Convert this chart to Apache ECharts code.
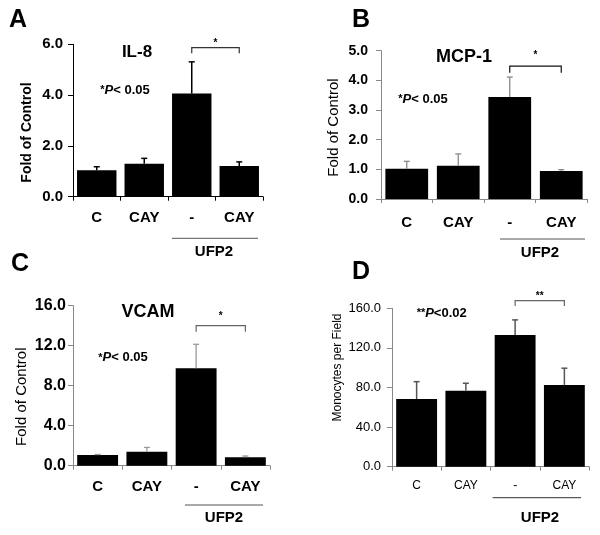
<!DOCTYPE html>
<html><head><meta charset="utf-8">
<script src="https://cdn.jsdelivr.net/npm/echarts@6/dist/echarts.min.js"></script>
<style>html,body{margin:0;padding:0;background:#fff}#c{width:600px;height:535px}</style>
</head><body><div id="c"></div>
<script>
// ---- data ----
const categories = ['C', 'CAY', '-', 'CAY'];
const groupLabel = 'UFP2';
const il8Mean = [1.04, 1.30, 4.06, 1.21];
const il8Err  = [0.14, 0.21, 1.25, 0.16];
const mcpMean = [1.02, 1.12, 3.44, 0.94];
const mcpErr  = [0.25, 0.40, 0.67, 0.05];
const vcamMean = [1.07, 1.40, 9.74, 0.84];
const vcamErr  = [0.05, 0.43, 2.40, 0.13];
const monoMean = [68.4, 76.8, 133.1, 82.6];
const monoErr  = [17.5, 7.5, 15.2, 16.9];
const yMaxes = [6, 5, 16, 160];
const yIntervals = [2, 1, 4, 40];
// bracket: [fromCategory, toCategory, topValue, dropValue]
const brackets = [[2, 3, 5.87, 5.65], [2, 3, 4.48, 4.26], [2, 3, 14.0, 13.4], [2, 3, 167.7, 162.3]];
const bracketMarks = ['*', '*', '*', '**'];
const titles = ['IL-8', 'MCP-1', 'VCAM', ''];
const yNames = ['Fold of Control', 'Fold of Control', 'Fold of Control', 'Monocytes per Field'];
const panelLetters = ['A', 'B', 'C', 'D'];

const FONT = '"Liberation Sans", Arial, sans-serif';
const means = [il8Mean, mcpMean, vcamMean, monoMean];
const errs = [il8Err, mcpErr, vcamErr, monoErr];

const panels = [
  {grid:{left:73, top:44.3, width:190, height:152.4}, axisColor:'#000', tickFont:15, tickBold:true, tickMargin:10,
   catFont:15, catBold:true, catMargin:14, errColor:'#000', errW:1.5, brColor:'#333', starGap:4.5},
  {grid:{left:381, top:50.7, width:206, height:148.3}, axisColor:'#888', tickFont:14, tickBold:true, tickMargin:13,
   catFont:15, catBold:true, catMargin:16, errColor:'#8a8a8a', errW:1.3, brColor:'#111', starGap:11},
  {grid:{left:73, top:305.7, width:197, height:160}, axisColor:'#888', tickFont:16, tickBold:true, tickMargin:7,
   catFont:15, catBold:true, catMargin:14, errColor:'#999', errW:1.3, brColor:'#666', starGap:9},
  {grid:{left:392, top:308.3, width:197, height:158.4}, axisColor:'#888', tickFont:13, tickBold:false, tickMargin:11,
   catFont:12, catBold:false, catMargin:13, errColor:'#555', errW:1.5, brColor:'#666', starGap:4}
];

function errRender(color, lw, cap) {
  return function (params, api) {
    const i = api.value(0), m = api.value(1), e = api.value(2);
    const p0 = api.coord([i, m]);
    const p1 = api.coord([i, m + e]);
    return {type:'group', children:[
      {type:'line', shape:{x1:p0[0], y1:p0[1], x2:p1[0], y2:p1[1]}, style:{stroke:color, lineWidth:lw}},
      {type:'line', shape:{x1:p1[0]-cap, y1:p1[1], x2:p1[0]+cap, y2:p1[1]}, style:{stroke:color, lineWidth:lw}}
    ]};
  };
}
function bracketRender(color, mark, gap) {
  return function (params, api) {
    const a = api.value(0), b = api.value(1), top = api.value(2), drop = api.value(3);
    const pa = api.coord([a, top]), pb = api.coord([b, top]);
    const da = api.coord([a, drop]), db = api.coord([b, drop]);
    return {type:'group', children:[
      {type:'polyline', shape:{points:[[pa[0], da[1]], pa, pb, [pb[0], db[1]]]}, style:{stroke:color, lineWidth:1.2, fill:null}},
      {type:'text', x:(pa[0]+pb[0])/2, y:pa[1]-gap, style:{text:mark, fill:'#000', font:'bold 10px ' + FONT, textAlign:'center', textVerticalAlign:'middle'}}
    ]};
  };
}

const grids = [], xAxes = [], yAxes = [], series = [];
panels.forEach((p, k) => {
  grids.push(Object.assign({containLabel:false}, p.grid));
  xAxes.push({type:'category', gridIndex:k, data:categories,
    axisLine:{lineStyle:{color:p.axisColor, width:1}},
    axisTick:{show:true, length:4, interval:0, lineStyle:{color:p.axisColor}},
    axisLabel:{interval:0, margin:p.catMargin, color:'#000', fontFamily:FONT, fontSize:p.catFont, fontWeight:p.catBold?'bold':'normal'}});
  yAxes.push({type:'value', gridIndex:k, min:0, max:yMaxes[k], interval:yIntervals[k],
    axisLine:{show:true, lineStyle:{color:p.axisColor, width:1}},
    axisTick:{show:true, length:5, lineStyle:{color:p.axisColor}},
    splitLine:{show:false},
    axisLabel:{margin:p.tickMargin, color:'#000', fontFamily:FONT, fontSize:p.tickFont, fontWeight:p.tickBold?'bold':'normal',
      formatter:v => v.toFixed(1)}});
  series.push({type:'bar', xAxisIndex:k, yAxisIndex:k, data:means[k], barCategoryGap:'17%',
    itemStyle:{color:'#000'}, z:2, silent:true});
  series.push({type:'custom', xAxisIndex:k, yAxisIndex:k, z:3, silent:true,
    renderItem:errRender(p.errColor, p.errW, 3),
    encode:{x:0, y:1},
    data:means[k].map((m, i) => [i, m, errs[k][i]])});
  series.push({type:'custom', xAxisIndex:k, yAxisIndex:k, z:3, silent:true, clip:false,
    renderItem:bracketRender(p.brColor, bracketMarks[k], p.starGap),
    encode:{x:[0,1], y:[2,3]},
    data:[brackets[k]]});
});

function txt(x, y, text, font, extra) {
  return Object.assign({type:'text', x:x, y:y, silent:true,
    style:{text:text, font:font, fill:'#000', textAlign:'center', textVerticalAlign:'middle'}}, extra || {});
}
function line(x1, y1, x2, y2, color) {
  return {type:'line', silent:true, shape:{x1:x1, y1:y1, x2:x2, y2:y2}, style:{stroke:color, lineWidth:1}};
}
function pText(x, y, size, stars, tail) {
  return {type:'text', x:x, y:y, silent:true, style:{
    text:'{s|' + stars + '}{i|P}{n|' + tail + '}', textAlign:'center', textVerticalAlign:'middle',
    rich:{
      s:{font:'bold ' + (size-2) + 'px ' + FONT, fill:'#000'},
      i:{font:'italic bold ' + size + 'px ' + FONT, fill:'#000'},
      n:{font:'bold ' + size + 'px ' + FONT, fill:'#000'}
    }}};
}
const yNameSpecs = [
  {x:27.5, y:132.5, font:'bold 14px ' + FONT},
  {x:334, y:127.5, font:'15px ' + FONT},
  {x:21.5, y:396.7, font:'15px ' + FONT},
  {x:337.5, y:367.5, font:'12px ' + FONT}
];
const graphics = [
  txt(18, 20.5, panelLetters[0], 'bold 25px ' + FONT),
  txt(361, 20.5, panelLetters[1], 'bold 25px ' + FONT),
  txt(20, 264.5, panelLetters[2], 'bold 25px ' + FONT),
  txt(361, 272, panelLetters[3], 'bold 25px ' + FONT),
  txt(137, 52, titles[0], 'bold 17px ' + FONT),
  txt(464, 57, titles[1], 'bold 18px ' + FONT),
  txt(148, 312, titles[2], 'bold 18px ' + FONT),
  pText(125, 90, 13, '*', '< 0.05'),
  pText(423, 99, 13, '*', '< 0.05'),
  pText(123, 357.7, 13, '*', '< 0.05'),
  pText(441.7, 313.3, 13, '**', '<0.02'),
  line(172, 238.3, 258, 238.3, '#555'),
  line(500, 239, 585, 239, '#555'),
  line(185, 505, 263, 505, '#555'),
  line(492.7, 497.7, 581, 497.7, '#333'),
  txt(214, 252, groupLabel, 'bold 15px ' + FONT),
  txt(540, 252.7, groupLabel, 'bold 15px ' + FONT),
  txt(224, 517.7, groupLabel, 'bold 15px ' + FONT),
  txt(540, 517.7, groupLabel, 'bold 15px ' + FONT)
];
yNameSpecs.forEach((s, k) => {
  graphics.push({type:'text', x:s.x, y:s.y, rotation:Math.PI/2, silent:true,
    style:{text:yNames[k], font:s.font, fill:'#000', textAlign:'center', textVerticalAlign:'middle'}});
});

const chart = echarts.init(document.getElementById('c'), null, {renderer:'canvas'});
chart.setOption({
  animation:false,
  backgroundColor:'#fff',
  grid:grids, xAxis:xAxes, yAxis:yAxes, series:series,
  graphic:graphics
});
</script>
</body></html>
